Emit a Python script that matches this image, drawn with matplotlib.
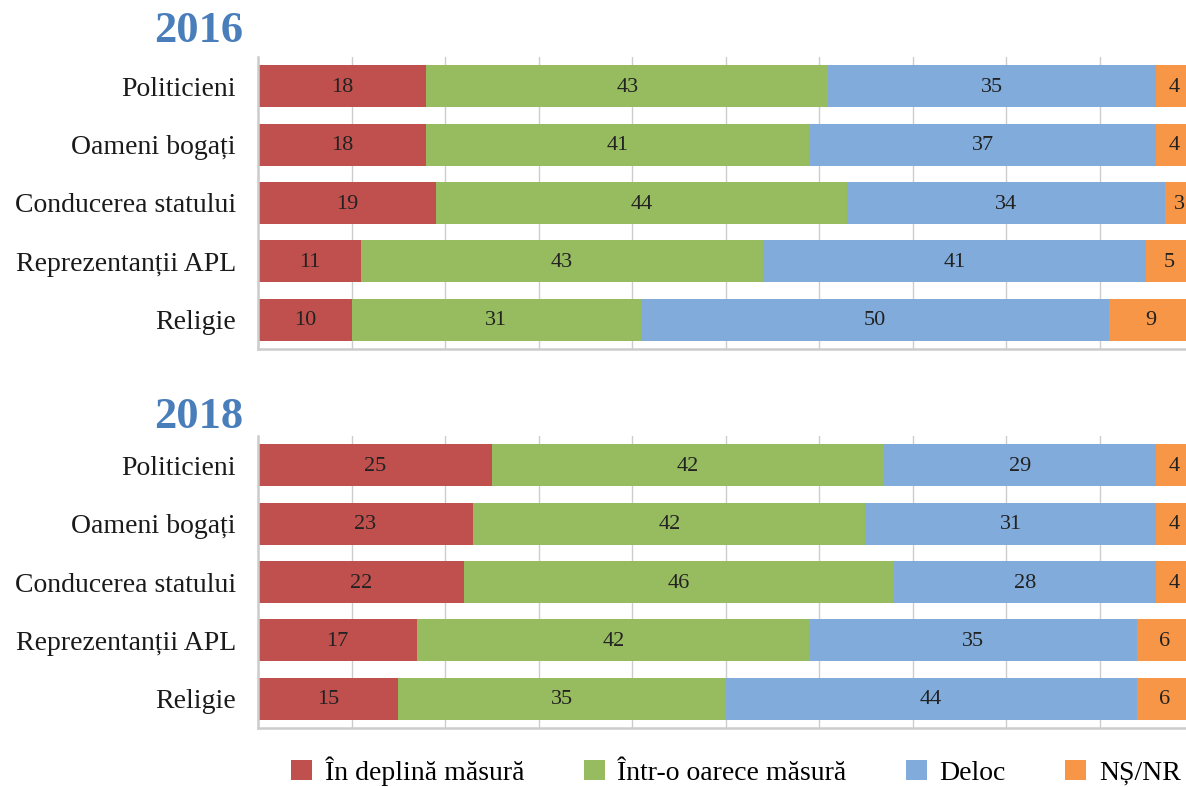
import numpy as np
import matplotlib.pyplot as plt
from matplotlib.patches import Patch

plt.rcParams['font.family'] = ['Liberation Serif', 'DejaVu Serif']

categories = ["Politicieni", "Oameni bogați", "Conducerea statului",
              "Reprezentanții APL", "Religie"]
series_names = ["În deplină măsură", "Într-o oarece măsură", "Deloc", "NȘ/NR"]
colors = ["#C0504D", "#97BB5F", "#80ABDA", "#F79646"]

years = ["2016", "2018"]
full_2016 = [18, 18, 19, 11, 10]
some_2016 = [43, 41, 44, 43, 31]
none_2016 = [35, 37, 34, 41, 50]
nsnr_2016 = [4, 4, 3, 5, 9]
full_2018 = [25, 23, 22, 17, 15]
some_2018 = [42, 42, 46, 42, 35]
none_2018 = [29, 31, 28, 35, 44]
nsnr_2018 = [4, 4, 4, 6, 6]

data = {
    "2016": [full_2016, some_2016, none_2016, nsnr_2016],
    "2018": [full_2018, some_2018, none_2018, nsnr_2018],
}

fig = plt.figure(figsize=(11.86, 7.87), dpi=100)
W, H = 1186, 787
# panel boxes in pixels: left, top, right, bottom
boxes = {"2016": (258, 57, 1193, 349), "2018": (258, 436, 1193, 728)}
title_y = {"2016": 31, "2018": 417}

for year in years:
    l, t, r, b = boxes[year]
    ax = fig.add_axes([l / W, 1 - b / H, (r - l) / W, (b - t) / H])
    y = np.arange(len(categories))
    left = np.zeros(len(categories))
    for vals, color in zip(data[year], colors):
        vals = np.array(vals, dtype=float)
        ax.barh(y, vals, left=left, height=0.72, color=color, zorder=2)
        for yi, (lo, v) in enumerate(zip(left, vals)):
            ax.text(lo + v / 2, yi + 0.02, f"{int(v)}", ha="center", va="center",
                    fontsize=16, color="#222222", zorder=3)
        left += vals
    ax.set_xlim(0, 100)
    ax.set_ylim(len(categories) - 0.5, -0.5)
    ax.set_xticks(np.arange(0, 101, 10))
    ax.set_yticks(y)
    ax.set_yticklabels(categories, fontsize=20, color="#1a1a1a")
    ax.tick_params(axis="y", length=0, pad=16)
    ax.tick_params(axis="x", length=0, labelbottom=False)
    ax.grid(axis="x", color="#cccccc", linewidth=1, zorder=0)
    for side in ["top", "right"]:
        ax.spines[side].set_visible(False)
    for side in ["left", "bottom"]:
        ax.spines[side].set_color("#cccccc")
        ax.spines[side].set_linewidth(1.8)
    fig.text(199 / W, 1 - title_y[year] / H, year, ha="center", va="center",
             fontsize=32, fontweight="bold", color="#4A7EBB")

handles = [Patch(facecolor=c, edgecolor="none") for c in colors]
fig.legend(handles, series_names, loc="center", ncol=4, frameon=False,
           bbox_to_anchor=(736 / W, 1 - 771 / H), fontsize=20,
           handlelength=0.75, handleheight=0.75, handletextpad=0.45,
           columnspacing=2.15)

fig.savefig("out.png", dpi=100)
